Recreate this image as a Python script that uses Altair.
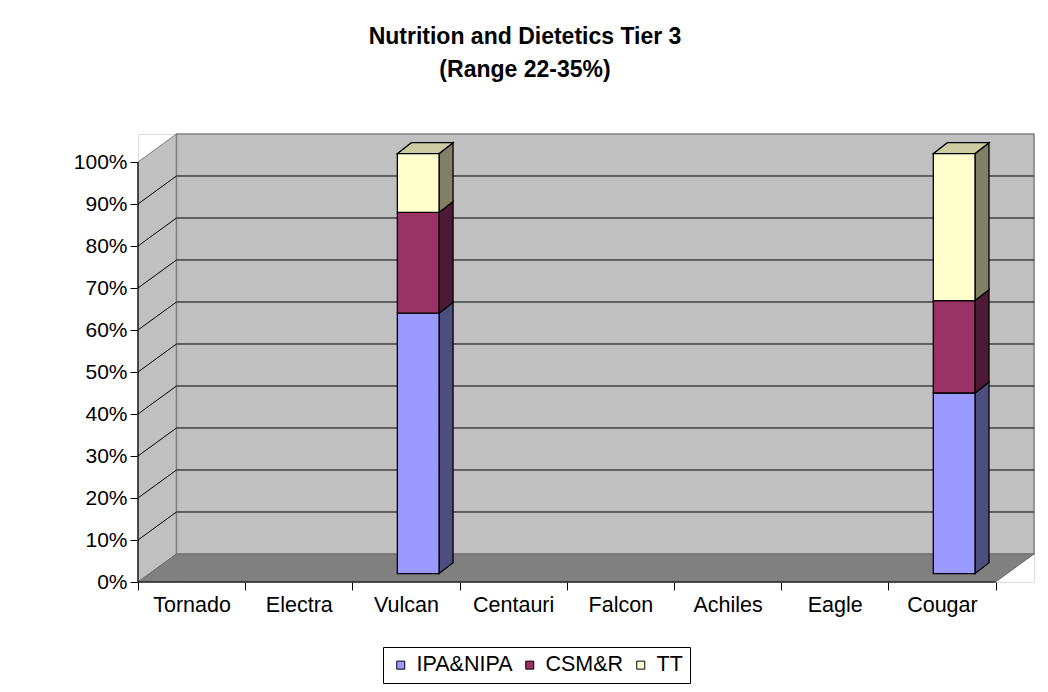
import json
import altair as alt
import pandas as pd

# ---------------- data ----------------
categories = ["Tornado", "Electra", "Vulcan", "Centauri", "Falcon", "Achiles", "Eagle", "Cougar"]
series_names = ["IPA&NIPA", "CSM&R", "TT"]
ipa_nipa = [0, 0, 62, 0, 0, 0, 0, 43]
csm_r = [0, 0, 24, 0, 0, 0, 0, 22]
tt = [0, 0, 14, 0, 0, 0, 0, 35]
y_tick_values = [round(k / 10, 1) for k in range(11)]

# ---------------- style ----------------
front_colors = ["#9999FF", "#993366", "#FFFFCC"]
side_colors = ["#4D4D80", "#4D1A33", "#808066"]
top_colors = ["#CCCCFF", "#CC6699", "#CCCCA3"]
FONT = "Liberation Sans"

# 3-D look (in data units of the scales)
D = 0.359      # depth along x of the walls
E = 0.0667     # depth along y of the walls
BAR_DX = 0.114
BAR_DY = 0.02
HALF_W = 0.1945
DEPTH_X = 0.1306
DEPTH_Y = 0.026
N = len(categories)

# ---------------- derived tables ----------------
fronts, sides, tops = [], [], []
seg = 0
for i, cat in enumerate(categories):
    vals = [ipa_nipa[i], csm_r[i], tt[i]]
    total = sum(vals)
    if total == 0:
        continue
    cx = i + 0.5 + BAR_DX
    xl, xr = cx - HALF_W, cx + HALF_W
    start = 0.0
    last = max(k for k, v in enumerate(vals) if v > 0)
    for k, v in enumerate(vals):
        if v == 0:
            continue
        end = start + v / total
        y0, y1 = start + BAR_DY, end + BAR_DY
        fronts.append({"cat": cat, "series": series_names[k], "x": xl, "x2": xr, "y": y0, "y2": y1})
        sides.append({"seg": seg, "x": xr, "lo": y0, "hi": y1, "fill": side_colors[k]})
        sides.append({"seg": seg, "x": xr + DEPTH_X, "lo": y0 + DEPTH_Y, "hi": y1 + DEPTH_Y, "fill": side_colors[k]})
        if k == last:
            T = y1
            for px, lo, hi in [(xl, T, T), (xl + DEPTH_X, T, T + DEPTH_Y),
                               (xr, T, T + DEPTH_Y), (xr + DEPTH_X, T + DEPTH_Y, T + DEPTH_Y)]:
                tops.append({"seg": seg, "x": px, "lo": lo, "hi": hi, "fill": top_colors[k]})
        seg += 1
        start = end

df_front = pd.DataFrame(fronts)
df_side = pd.DataFrame(sides)
df_top = pd.DataFrame(tops)

df_sidewall = pd.DataFrame({"x": [0, D], "lo": [0, E], "hi": [1, 1 + E]})
df_backwall = pd.DataFrame({"x": [D], "x2": [N + D], "y": [E], "y2": [1 + E]})
df_floor = pd.DataFrame({"x": [0, D, N, N + D], "lo": [0, 0, 0, E], "hi": [0, E, E, E]})
df_backgrid = pd.DataFrame({"y": [v + E for v in y_tick_values[1:-1]], "x": D, "x2": N + D})
df_sidegrid = pd.DataFrame({"x": 0, "y": y_tick_values[1:-1], "x2": D,
                            "y2": [v + E for v in y_tick_values[1:-1]]})
df_edges = pd.DataFrame({"x": [0, 0], "y": [0, 0], "x2": [0, N], "y2": [1, 0]})

# ---------------- scales / axes ----------------
x_scale = alt.Scale(domain=[0, N + D], nice=False, zero=False)
y_scale = alt.Scale(domain=[0, 1 + E], nice=False, zero=False)
label_expr = "datum.value < %d ? %s[datum.value] : ''" % (N, json.dumps(categories))
x_axis = alt.Axis(values=list(range(N + 1)), labelExpr=label_expr, labelOffset=53.6,
                  labelFlush=False, labelOverlap=False, labelBound=False, domain=False, grid=False,
                  tickSize=8, tickColor="#000000", labelFontSize=21.5, labelFont=FONT,
                  labelColor="#000000", labelPadding=4, title=None)
y_axis = alt.Axis(values=y_tick_values, format=".0%", domain=False, grid=False, tickSize=8,
                  tickColor="#000000", labelFontSize=21, labelFont=FONT, labelColor="#000000",
                  labelPadding=3, labelOverlap=False, labelFlush=False, title=None)


def X(f):
    return alt.X(f, scale=x_scale, axis=x_axis)


def Y(f):
    return alt.Y(f, scale=y_scale, axis=y_axis, stack=None)


sidewall = alt.Chart(df_sidewall).mark_area(fill="#C0C0C0", stroke="#808080", strokeWidth=1, orient="vertical").encode(
    x=X("x:Q"), y=Y("lo:Q"), y2="hi:Q")
backwall = alt.Chart(df_backwall).mark_rect(fill="#C0C0C0", stroke="#808080", strokeWidth=1.5).encode(
    x=X("x:Q"), x2="x2:Q", y=Y("y:Q"), y2="y2:Q")
floor = alt.Chart(df_floor).mark_area(fill="#808080", stroke="#6E6E6E", strokeWidth=1, orient="vertical").encode(
    x=X("x:Q"), y=Y("lo:Q"), y2="hi:Q")
backgrid = alt.Chart(df_backgrid).mark_rule(color="#000000", strokeWidth=1).encode(
    x=X("x:Q"), x2="x2:Q", y=Y("y:Q"))
sidegrid = alt.Chart(df_sidegrid).mark_rule(color="#000000", strokeWidth=1).encode(
    x=X("x:Q"), x2="x2:Q", y=Y("y:Q"), y2="y2:Q")
edges = alt.Chart(df_edges).mark_rule(color="#000000", strokeWidth=1.2).encode(
    x=X("x:Q"), x2="x2:Q", y=Y("y:Q"), y2="y2:Q")

bar_sides = alt.Chart(df_side).mark_area(stroke="#000000", strokeWidth=1.3, orient="vertical").encode(
    x=X("x:Q"), y=Y("lo:Q"), y2="hi:Q", detail="seg:N", color=alt.Color("fill:N", scale=None))
bar_tops = alt.Chart(df_top).mark_area(stroke="#000000", strokeWidth=1.3, orient="vertical").encode(
    x=X("x:Q"), y=Y("lo:Q"), y2="hi:Q", detail="seg:N", color=alt.Color("fill:N", scale=None))
bar_fronts = alt.Chart(df_front).mark_rect(stroke="#000000", strokeWidth=1.3).encode(
    x=X("x:Q"), x2="x2:Q", y=Y("y:Q"), y2="y2:Q",
    color=alt.Color("series:N", scale=alt.Scale(domain=series_names, range=front_colors),
                    legend=alt.Legend(title=None, orient="none", legendX=245, legendY=513,
                                      direction="horizontal", columns=3, symbolType="square",
                                      symbolSize=64, symbolStrokeColor="#000000", symbolStrokeWidth=1,
                                      labelFontSize=21.5, labelFont=FONT, labelColor="#000000",
                                      labelOffset=5, columnPadding=6, padding=7,
                                      strokeColor="#000000", fillColor="#FFFFFF")),
    tooltip=["cat:N", "series:N"])

chart = alt.layer(sidewall, backwall, floor, backgrid, sidegrid, edges,
                  bar_sides, bar_tops, bar_fronts).properties(
    width=896, height=448,
    title=alt.TitleParams(["Nutrition and Dietetics Tier 3", "(Range 22-35%)"],
                          anchor="middle", dx=-61, offset=50, font=FONT, fontSize=23,
                          fontWeight="bold", color="#000000", lineHeight=33),
    autosize=alt.AutoSizeParams(type="none"),
    padding={"left": 130, "top": 126, "right": 6, "bottom": 102},
).configure_view(stroke=None).configure(background="#FFFFFF")

chart.save("out.html", embed_options={"renderer": "svg", "actions": False})
